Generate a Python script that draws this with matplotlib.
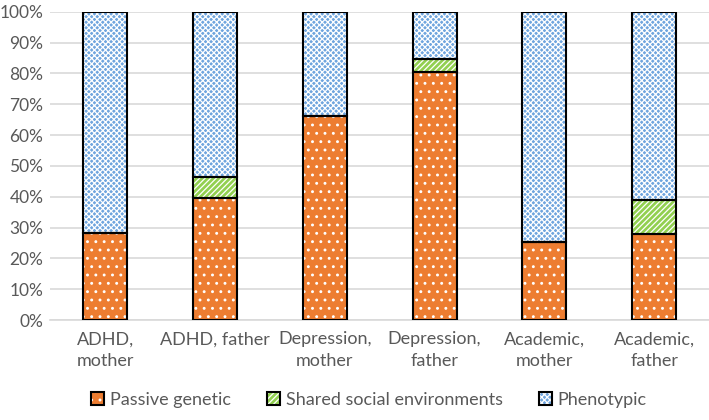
import matplotlib
matplotlib.use("Agg")
import matplotlib.pyplot as plt
import numpy as np
from matplotlib.patches import Patch
from matplotlib.legend_handler import HandlerTuple

categories = ["ADHD,\nmother", "ADHD, father", "Depression,\nmother",
              "Depression,\nfather", "Academic,\nmother", "Academic,\nfather"]
passive_genetic = [28.3, 39.5, 66.2, 80.3, 25.2, 28.0]
shared_social = [0.0, 7.0, 0.0, 4.3, 0.0, 11.0]
phenotypic = [100 - p - s for p, s in zip(passive_genetic, shared_social)]

series = [
    ("Passive genetic", passive_genetic, "#ED7D31", "..", "white"),
    ("Shared social environments", shared_social, "#92D050", "//////", "white"),
    ("Phenotypic", phenotypic, "#6FA5DE", "xxxxxx", "white"),
]

plt.rcParams["font.family"] = ["Lato", "DejaVu Sans"]
plt.rcParams["hatch.linewidth"] = 0.9

fig = plt.figure(figsize=(7.09, 4.2), dpi=100)
ax = fig.add_axes([0.071, 0.238, 0.929, 0.734])

x = np.arange(len(categories))
width = 0.4
bottom = np.zeros(len(categories))
handles = []
for label, vals, color, hatch, hcolor in series:
    vals = np.array(vals)
    ax.bar(x, vals, width, bottom=bottom, color=color, hatch=hatch,
           edgecolor=hcolor, linewidth=0, zorder=2)
    ax.bar(x, vals, width, bottom=bottom, fill=False, edgecolor="black",
           linewidth=1.5, zorder=3)
    handles.append((Patch(facecolor=color, hatch=hatch, edgecolor=hcolor, linewidth=0),
                    Patch(fill=False, edgecolor="black", linewidth=1.5)))
    bottom += vals

ax.set_ylim(0, 100)
ax.set_xlim(-0.5, len(categories) - 0.5)
ax.set_yticks(np.arange(0, 101, 10))
ax.set_yticklabels([f"{v}%" for v in range(0, 101, 10)])
ax.set_xticks(x)
ax.set_xticklabels(categories, linespacing=1.45)
ax.yaxis.grid(True, color="#D9D9D9", linewidth=1.2, zorder=0)
ax.set_axisbelow(True)
for s in ["top", "right", "left"]:
    ax.spines[s].set_visible(False)
ax.spines["bottom"].set_color("#D9D9D9")
ax.spines["bottom"].set_linewidth(1.2)
ax.tick_params(axis="both", length=0, labelsize=12.5, colors="#595959")
ax.tick_params(axis="y", pad=5)
ax.tick_params(axis="x", pad=8)
ax.tick_params(axis="x", labelsize=13)

leg = fig.legend(handles=handles, labels=[s[0] for s in series],
                 handler_map={tuple: HandlerTuple(ndivide=1, pad=0)},
                 loc="lower center", ncol=3, frameon=False,
                 bbox_to_anchor=(0.52, -0.01), fontsize=13,
                 handlelength=0.75, handleheight=0.75, handletextpad=0.3,
                 columnspacing=2.0)
for t in leg.get_texts():
    t.set_color("#595959")

fig.savefig("out.png", dpi=100)
